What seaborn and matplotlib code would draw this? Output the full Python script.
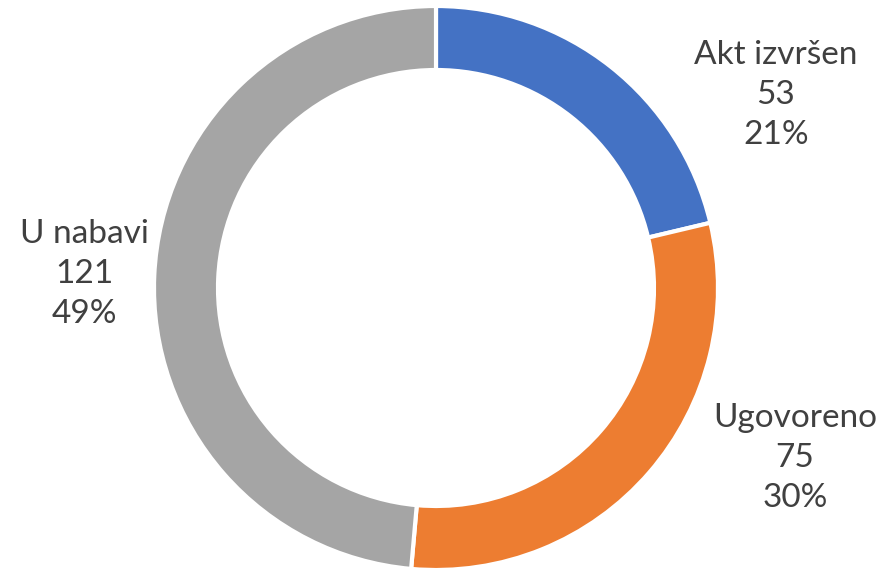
import matplotlib.pyplot as plt
import seaborn as sns

sns.set_theme(style="white")
plt.rcParams['font.family'] = ['Lato', 'DejaVu Sans']

# data
categories = ['Akt izvršen', 'Ugovoreno', 'U nabavi']
values = [53, 75, 121]
percents = [21, 30, 49]
colors = ['#4472C4', '#ED7D31', '#A5A5A5']

# label block centres (pixels, from top-left)
label_pos = [(776, 95), (795, 458), (84, 274)]

W, H = 884, 570
fig = plt.figure(figsize=(W / 100, H / 100), dpi=100)
ax = fig.add_axes([0, 0, 1, 1])
ax.set_xlim(0, W)
ax.set_ylim(0, H)
ax.set_aspect('equal')
ax.axis('off')

ax.pie(values, colors=colors, startangle=90, counterclock=False,
       center=(436, H - 288), radius=282,
       wedgeprops=dict(width=64, edgecolor='white', linewidth=3))
ax.set_xlim(0, W)
ax.set_ylim(0, H)

for cat, v, p, (x, y) in zip(categories, values, percents, label_pos):
    ax.text(x, H - y, f"{cat}\n{v}\n{p}%", ha='center', va='center',
            fontsize=24, color='#404040', linespacing=1.4)

plt.savefig('out.png', dpi=100)
